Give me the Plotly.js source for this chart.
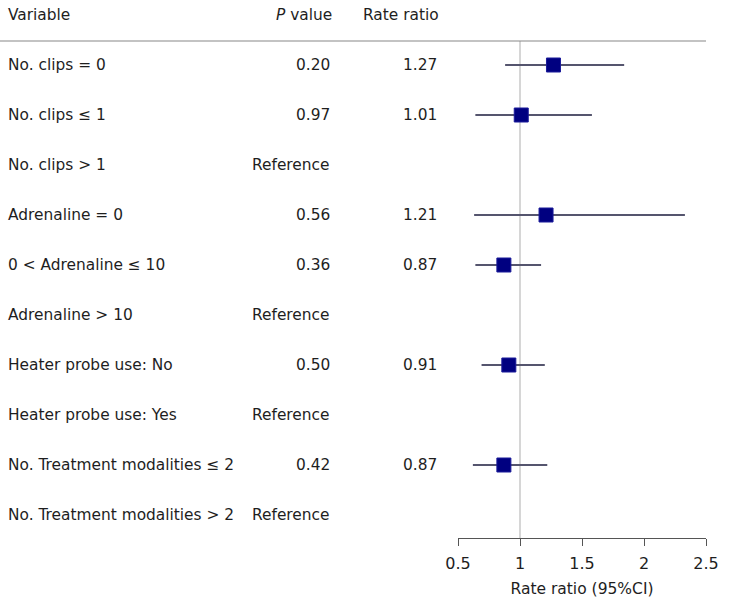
<!DOCTYPE html>
<html><head><meta charset="utf-8">
<script src="https://cdn.plot.ly/plotly-3.0.1.min.js"></script>
<style>html,body{margin:0;padding:0;background:#fff;}#chart{width:732px;height:603px;}</style>
</head><body><div id="chart"></div>
<script>
const variables = ["No. clips = 0","No. clips \u2264 1","No. clips > 1","Adrenaline = 0","0 < Adrenaline \u2264 10","Adrenaline > 10","Heater probe use: No","Heater probe use: Yes","No. Treatment modalities \u2264 2","No. Treatment modalities > 2"];
const pValues = ["0.20","0.97","Reference","0.56","0.36","Reference","0.50","Reference","0.42","Reference"];
const rateRatioText = ["1.27","1.01","","1.21","0.87","","0.91","","0.87",""];
const estimate = [1.27,1.01,null,1.21,0.87,null,0.91,null,0.87,null];
const lower = [0.88,0.64,null,0.63,0.64,null,0.69,null,0.62,null];
const upper = [1.84,1.58,null,2.33,1.17,null,1.20,null,1.22,null];
const xTicks = [0.5,1,1.5,2,2.5];

const rows = variables.map((_,i)=>i+1);
const W = 732;
const FONT = "DejaVu Sans, Verdana, sans-serif";
const TXT = "#1e1e1e";
const FS = 15.4;

const errPlus = estimate.map((e,i)=> e==null?null:upper[i]-e);
const errMinus = estimate.map((e,i)=> e==null?null:e-lower[i]);

const trace = {
  type:"scatter", mode:"markers",
  x: estimate, y: rows,
  marker:{symbol:"square", size:14, color:"#000080", line:{color:"#1a1a9a", width:1}},
  error_x:{type:"data", symmetric:false, array:errPlus, arrayminus:errMinus, color:"#55556e", thickness:2, width:0},
  hoverinfo:"none", cliponaxis:false
};

const annotations = [];
const hdrY = (538-15)/497;
annotations.push({text:"Variable", xref:"paper", yref:"paper", x:6/W, y:hdrY, xanchor:"left", yanchor:"middle", showarrow:false, font:{family:FONT,size:FS,color:TXT}});
annotations.push({text:"<i>P</i> value", xref:"paper", yref:"paper", x:334/W, y:hdrY, xanchor:"right", yanchor:"middle", showarrow:false, font:{family:FONT,size:FS,color:TXT}});
annotations.push({text:"Rate ratio", xref:"paper", yref:"paper", x:441/W, y:hdrY, xanchor:"right", yanchor:"middle", showarrow:false, font:{family:FONT,size:FS,color:TXT}});
rows.forEach((r,i)=>{
  annotations.push({text:variables[i], xref:"paper", yref:"y", x:6/W, y:r, xanchor:"left", yanchor:"middle", showarrow:false, font:{family:FONT,size:FS,color:TXT}});
  annotations.push({text:pValues[i], xref:"paper", yref:"y", x:332/W, y:r, xanchor:"right", yanchor:"middle", showarrow:false, font:{family:FONT,size:FS,color:TXT}});
  if(rateRatioText[i]) annotations.push({text:rateRatioText[i], xref:"paper", yref:"y", x:439/W, y:r, xanchor:"right", yanchor:"middle", showarrow:false, font:{family:FONT,size:FS,color:TXT}});
});

const layout = {
  width:732, height:603,
  margin:{l:0,r:0,t:41,b:65,pad:0},
  paper_bgcolor:"#fff", plot_bgcolor:"#fff",
  showlegend:false,
  font:{family:FONT, color:TXT},
  xaxis:{domain:[458/W,706/W], range:[0.5,2.5], tickvals:xTicks, ticktext:xTicks.map(String),
    showgrid:false, zeroline:false, showline:true, linecolor:"#555", linewidth:1,
    ticks:"outside", ticklen:7, tickcolor:"#555", ticklabelstandoff:4, tickfont:{family:FONT,size:16,color:TXT},
    title:{text:"Rate ratio (95%CI)", font:{family:FONT,size:15.5,color:TXT}, standoff:10}, fixedrange:true},
  yaxis:{range:[10.46,0.52], visible:false, showgrid:false, zeroline:false, fixedrange:true},
  shapes:[
    {type:"line", xref:"x", yref:"paper", x0:1, x1:1, y0:0, y1:1, line:{color:"#c8c8c8", width:1.5}, layer:"below"},
    {type:"line", xref:"paper", yref:"paper", x0:0, x1:706/W, y0:1, y1:1, line:{color:"#888", width:1.2}}
  ],
  annotations:annotations
};
Plotly.newPlot("chart",[trace],layout,{staticPlot:true,displayModeBar:false});
</script></body></html>
